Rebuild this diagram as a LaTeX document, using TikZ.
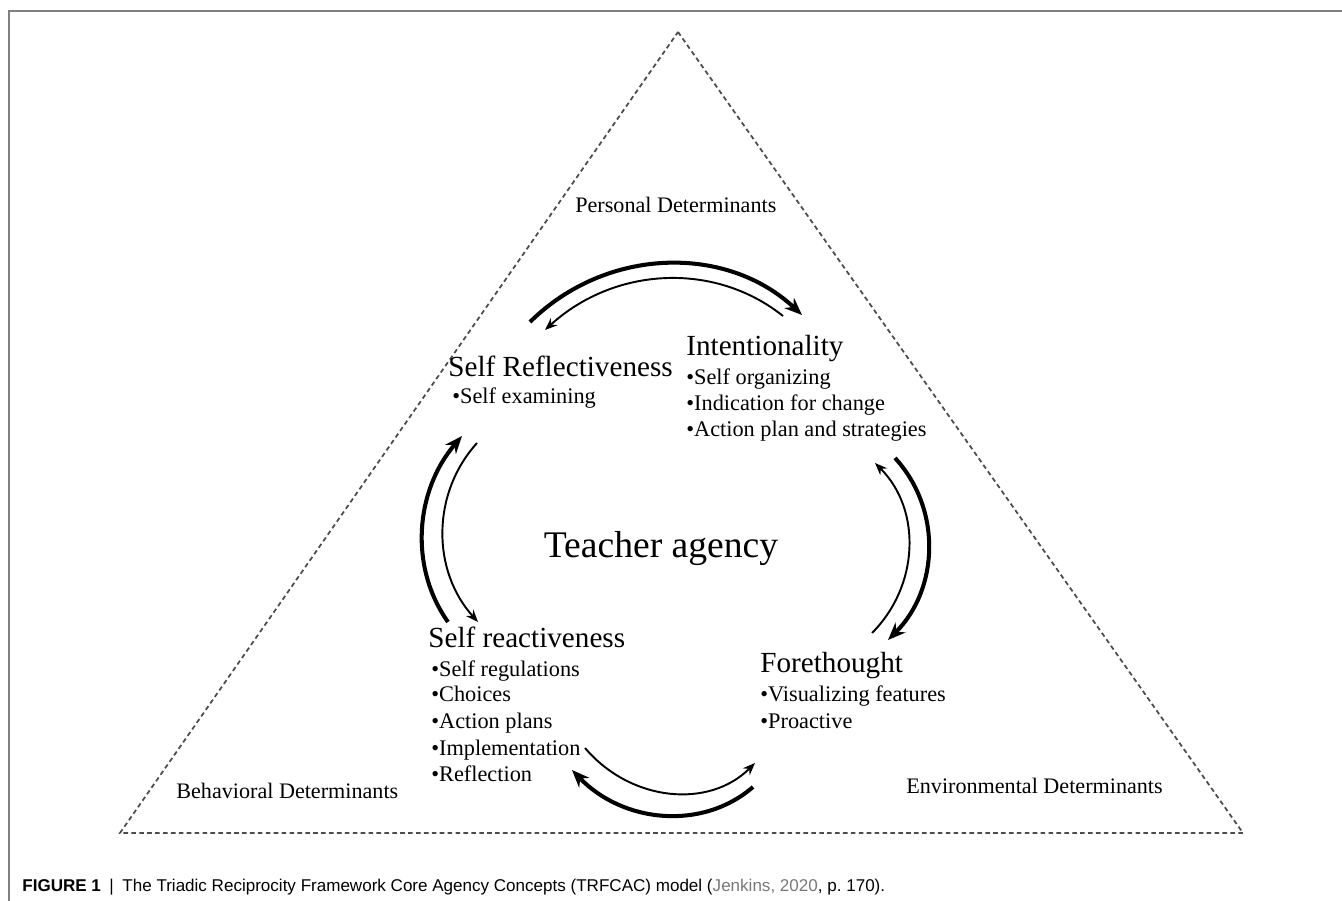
\documentclass[tikz,border=0pt]{standalone}
\usepackage{fontspec}
\setmainfont{Liberation Serif}
\newfontfamily\capfont{Liberation Sans}
\usepackage{xcolor}
\usetikzlibrary{arrows.meta}
\definecolor{framegray}{RGB}{128,128,128}
\definecolor{citegray}{RGB}{120,120,120}

\begin{document}
\begin{tikzpicture}[x=0.02cm, y=-0.02cm,
    heading/.style={anchor=base west, inner sep=0pt, font=\fontsize{16.6}{20}\selectfont},
    item/.style={anchor=base west, inner sep=0pt, font=\fontsize{12.7}{15}\selectfont},
    determinant/.style={anchor=base west, inner sep=0pt, font=\fontsize{12.6}{15}\selectfont},
    thickarrow/.style={line width=2.3pt, -{Stealth[length=10pt, width=8pt]}},
    thinarrow/.style={line width=1.1pt, -{Stealth[length=7pt, width=5.5pt]}},
    border/.style={dash pattern=on 2.6pt off 1.9pt, line width=1pt, black!70}]
    \useasboundingbox (0,0) rectangle (1342,901);
    \draw[framegray, line width=0.85pt] (9,901) -- (9,11) -- (1342,11);

    % Triangle
    \coordinate (apex) at (678,32);
    \coordinate (left) at (120,833);
    \coordinate (right) at (1243,833);
    \draw[border] (apex) -- (right) -- (left) -- cycle;

    % Determinants
    \node[determinant] (personal) at (575,213) {Personal Determinants};
    \node[determinant] (behavioral) at (176,798) {Behavioral Determinants};
    \node[determinant] (environmental) at (906,793) {Environmental Determinants};

    % Centre
    \node[anchor=base, inner sep=0pt, font=\fontsize{21.4}{25}\selectfont] (agency) at (661,558) {Teacher agency};

    % Self Reflectiveness
    \node[heading] (reflect) at (448,377) {Self Reflectiveness};
    \node[item] (reflect1) at (452,404) {•Self examining};

    % Intentionality
    \node[heading] (intent) at (686,356) {Intentionality};
    \node[item] (intent1) at (686,385) {•Self organizing};
    \node[item] (intent2) at (686,411) {•Indication for change};
    \node[item] (intent3) at (686,437) {•Action plan and strategies};

    % Self reactiveness
    \node[heading] (react) at (428,647) {Self reactiveness};
    \node[item] (react1) at (431,677) {•Self regulations};
    \node[item] (react2) at (431,702) {•Choices};
    \node[item] (react3) at (431,728) {•Action plans};
    \node[item] (react4) at (431,755) {•Implementation};
    \node[item] (react5) at (431,781) {•Reflection};

    % Forethought
    \node[heading] (fore) at (760,673) {Forethought};
    \node[item] (fore1) at (760,702) {•Visualizing features};
    \node[item] (fore2) at (760,728) {•Proactive};

    % Arrow ends
    \coordinate (topA) at (530,322);
    \coordinate (topB) at (802,315);
    \coordinate (topC) at (783,316);
    \coordinate (topD) at (545,330);
    \coordinate (rightA) at (895,458);
    \coordinate (rightB) at (888,640);
    \coordinate (rightC) at (872,633);
    \coordinate (rightD) at (875,463);
    \coordinate (leftA) at (448,622);
    \coordinate (leftB) at (462,436);
    \coordinate (leftC) at (477,443);
    \coordinate (leftD) at (478,622);
    \coordinate (botA) at (585,748);
    \coordinate (botB) at (755,763);
    \coordinate (botC) at (753,787);
    \coordinate (botD) at (572,770);

    % Arrows
    \draw[thickarrow] (topA) .. controls (606,247) and (726,244) .. (topB);
    \draw[thinarrow] (topC) .. controls (714,261) and (614,267) .. (topD);
    \draw[thickarrow] (rightA) .. controls (942,509) and (939,589) .. (rightB);
    \draw[thinarrow] (rightC) .. controls (919,586) and (922,510) .. (rightD);
    \draw[thickarrow] (leftA) .. controls (409,567) and (415,491) .. (leftB);
    \draw[thinarrow] (leftC) .. controls (431,494) and (432,571) .. (leftD);
    \draw[thinarrow] (botA) .. controls (631,802) and (709,809) .. (botB);
    \draw[thickarrow] (botC) .. controls (702,831) and (623,823) .. (botD);

    % Caption
    \node[anchor=base west, inner sep=0pt, font=\capfont\fontsize{9.7}{11}\selectfont] (caption) at (22,891)
        {\textbf{FIGURE 1}\enspace|\enspace The Triadic Reciprocity Framework Core Agency Concepts (TRFCAC) model (\textcolor{citegray}{Jenkins, 2020}, p.~170).};
\end{tikzpicture}
\end{document}
